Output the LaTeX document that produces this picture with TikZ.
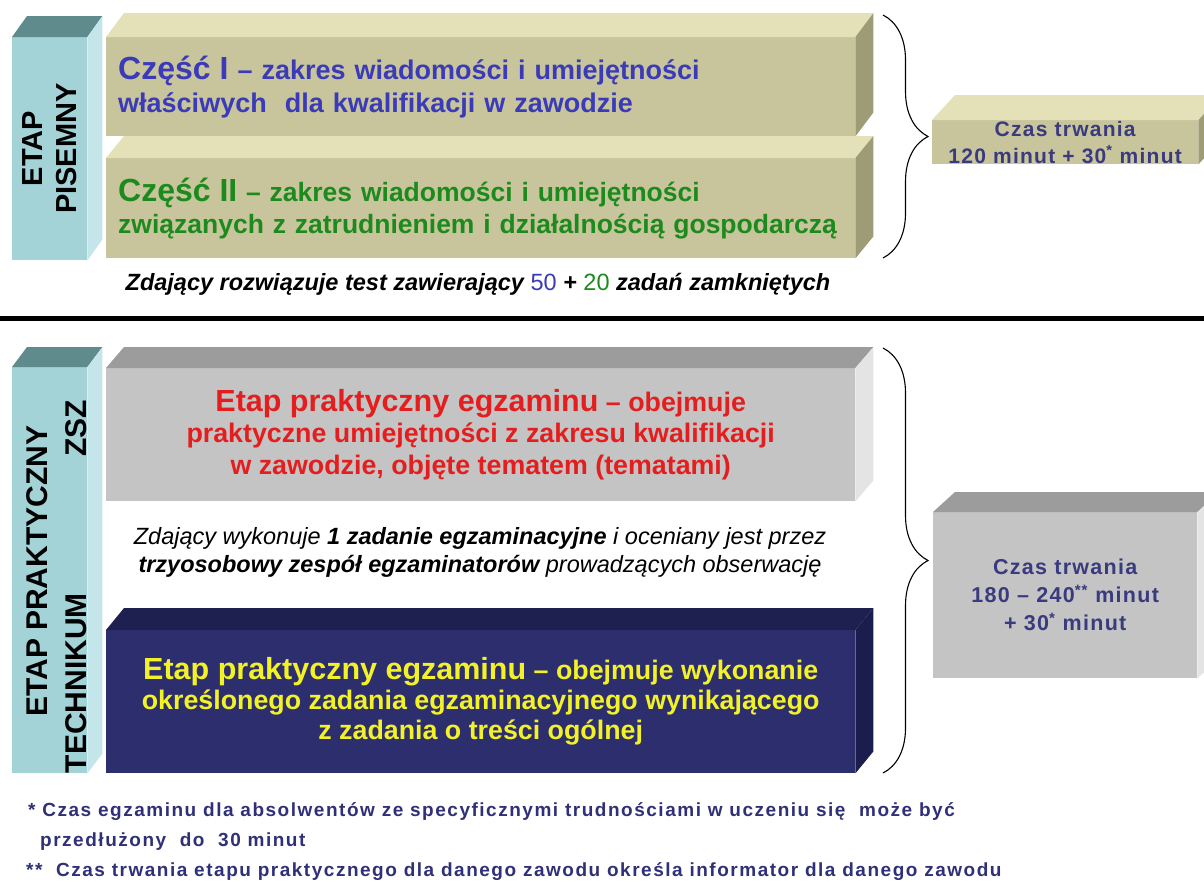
\documentclass[tikz,border=0pt]{standalone}
\usepackage{fontspec}
\setmainfont{Liberation Sans}
\newfontfamily\notefont[LetterSpace=8]{Liberation Sans}
\newfontfamily\timefont[LetterSpace=6]{Liberation Sans}
\usetikzlibrary{positioning,decorations.pathreplacing}

\definecolor{tealfront}{HTML}{A3D3D7}
\definecolor{tealtop}{HTML}{5F8B8D}
\definecolor{tealside}{HTML}{C4E6EA}
\definecolor{olivefront}{HTML}{C8C59C}
\definecolor{olivetop}{HTML}{E4E1B8}
\definecolor{oliveside}{HTML}{9E9C76}
\definecolor{greyfront}{HTML}{C4C4C4}
\definecolor{greytop}{HTML}{9C9C9C}
\definecolor{greyside}{HTML}{E4E4E4}
\definecolor{navyfront}{HTML}{2C2E6E}
\definecolor{navytop}{HTML}{1E2050}
\definecolor{navyside}{HTML}{1B1D4C}
\definecolor{partone}{HTML}{3B3BB8}
\definecolor{parttwo}{HTML}{1C8A1C}
\definecolor{etapred}{HTML}{E41E1E}
\definecolor{etapyellow}{HTML}{F2F226}
\definecolor{timeblue}{HTML}{3A3A7E}
\definecolor{notenavy}{HTML}{303078}
\newcommand{\fsz}[2]{\fontsize{#1}{#2}\selectfont}

\begin{document}
\begin{tikzpicture}[x=1pt, y=-1pt,
    front/.style={inner sep=0pt, anchor=north west, minimum width=749pt},
    timebox/.style={inner sep=0pt, anchor=north west, align=center, text=timeblue, font=\timefont\fsz{21}{27}\bfseries},
    barlabel/.style={rotate=90, align=center, font=\fsz{29}{34}\bfseries},
    footnote/.style={anchor=base west, inner sep=0pt, text=notenavy, font=\notefont\fsz{19}{22}\bfseries},
    brace/.style={decorate, decoration={brace, amplitude=45pt}, line width=1.1pt}]
    \useasboundingbox[fill=white] (0,0) rectangle (1204,889);
    %Written stage
    \node[inner sep=0pt, anchor=north west, fill=tealfront, minimum width=75pt, minimum height=223pt] (pis) at (12,37) {};
    \node[front, fill=olivefront, minimum height=99pt, text width=725pt, inner xsep=12pt, align=left, text=partone, font=\fsz{27}{33}\bfseries] (part1) at (106,37)
        {{\fsz{32}{33}Część I} – zakres wiadomości i umiejętności\\właściwych\ \ dla kwalifikacji w zawodzie};
    \node[front, fill=olivefront, minimum height=100pt, text width=725pt, inner xsep=12pt, align=left, text=parttwo, font=\fsz{26.5}{32}\bfseries] (part2) at (106,158)
        {{\fsz{32}{32}Część II} – zakres wiadomości i umiejętności\\związanych z zatrudnieniem i działalnością gospodarczą};
    \node[font=\fsz{23.5}{25}\bfseries\itshape] (testnote) at (478,284)
        {Zdający rozwiązuje test zawierający {\color{partone}\upshape\mdseries 50} + {\color{parttwo}\upshape\mdseries 20} zadań zamkniętych};
    \node[timebox, fill=olivefront, minimum width=266pt, minimum height=44pt] (time1) at (932,120)
        {Czas trwania\\120 minut + 30\textsuperscript{*} minut};
    \node[barlabel] (pislabel) at (pis.center) {ETAP\\PISEMNY};

    \draw[line width=5pt] (0,318) -- (1204,318);

    %Practical stage
    \node[inner sep=0pt, anchor=north west, fill=tealfront, minimum width=75pt, minimum height=406pt] (prak) at (12,367) {};
    \node[front, fill=greyfront, minimum height=133pt, align=center, text=etapred, font=\fsz{26.8}{31.5}\bfseries] (zsz) at (106,368)
        {{\fsz{30.5}{31.5}Etap praktyczny egzaminu} – obejmuje\\praktyczne umiejętności z zakresu kwalifikacji\\w zawodzie, objęte tematem (tematami)};
    \node[align=center, font=\fsz{23.5}{28}\itshape] (obsnote) at (480,552)
        {Zdający wykonuje \textbf{1 zadanie egzaminacyjne} i oceniany jest przez\\\textbf{trzyosobowy zespół egzaminatorów} prowadzących obserwację};
    \node[front, fill=navyfront, minimum height=143pt, align=center, text=etapyellow, font=\fsz{26.8}{30}\bfseries] (tech) at (106,630)
        {{\fsz{30.5}{30}Etap praktyczny egzaminu} – obejmuje wykonanie\\określonego zadania egzaminacyjnego wynikającego\\z zadania o treści ogólnej};
    \node[timebox, fill=greyfront, minimum width=264pt, minimum height=166pt, font=\timefont\fsz{21.5}{28}\bfseries] (time2) at (933,512)
        {Czas trwania\\180 – 240\textsuperscript{**} minut\\+ 30\textsuperscript{*} minut};
    \node[barlabel, font=\fsz{30}{39}\bfseries] (praklabel) at ([xshift=7pt, yshift=-16.5pt]prak.center)
        {\hspace*{31pt}ETAP PRAKTYCZNY\\\makebox[373pt]{TECHNIKUM\hfill ZSZ}};

    %3D faces
    \foreach \n/\tp/\sd/\dx/\dy in {pis/tealtop/tealside/15/21, prak/tealtop/tealside/15/20,
        part1/olivetop/oliveside/18/24, part2/olivetop/oliveside/18/22, time1/olivetop/oliveside/23/25,
        zsz/greytop/greyside/18/21, tech/navytop/navyside/18/22, time2/greytop/greyside/22/20}{
        \fill[\tp] (\n.north west) -- ++(\dx,-\dy) -- ([shift={(\dx,-\dy)}]\n.north east) -- (\n.north east) -- cycle;
        \fill[\sd] (\n.north east) -- ++(\dx,-\dy) -- ([shift={(\dx,-\dy)}]\n.south east) -- (\n.south east) -- cycle;
    }

    %Braces
    \coordinate (b1top) at (883,15);
    \coordinate (b1bot) at (883,258);
    \coordinate (b2top) at (883,348);
    \coordinate (b2bot) at (883,773);
    \draw[brace] (b1top) -- (b1bot);
    \draw[brace] (b2top) -- (b2bot);

    %Footnotes
    \node[footnote] (fn1) at (28,816) {* Czas egzaminu dla absolwentów ze specyficznymi trudnościami w uczeniu się\ \ może być};
    \node[footnote] (fn2) at (40,846) {przedłużony\ \ do\ \ 30 minut};
    \node[footnote] (fn3) at (26,876) {**\ \ Czas trwania etapu praktycznego dla danego zawodu określa informator dla danego zawodu};
\end{tikzpicture}
\end{document}
